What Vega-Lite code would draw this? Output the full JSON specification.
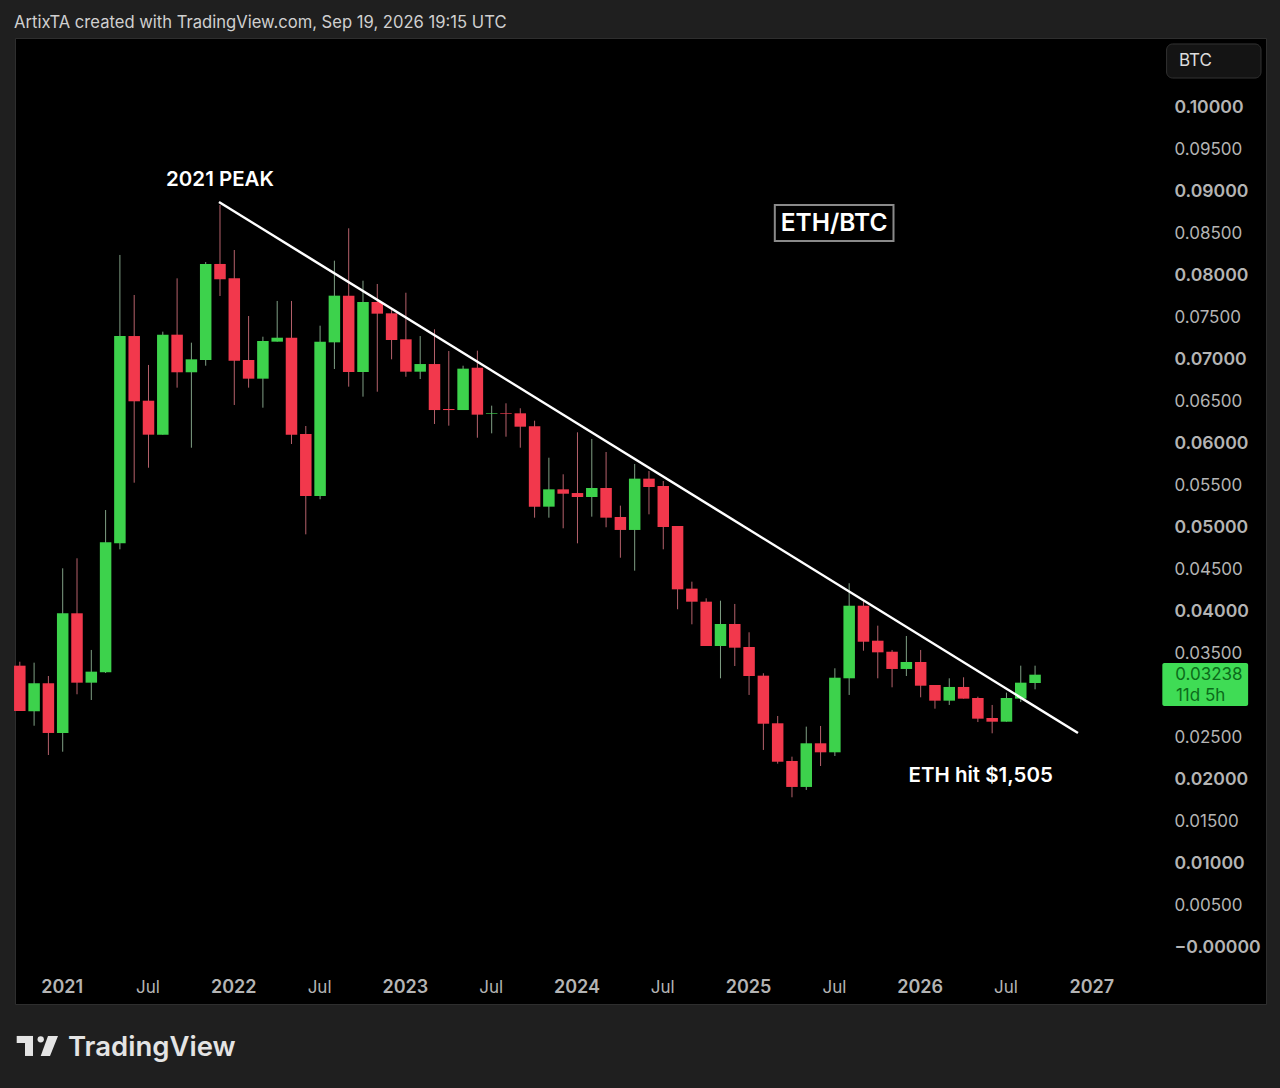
{
  "$schema": "https://vega.github.io/schema/vega-lite/v6.json",
  "width": 1251,
  "height": 966,
  "autosize": "none",
  "padding": {"left": 15, "top": 38, "right": 14, "bottom": 84},
  "background": "#1f1f1f",
  "view": {"fill": "#000000", "stroke": "#2e2e2e"},
  "config": {"font": "Inter"},
  "datasets": {
    "candles": [
      {"month": "2020-10", "m": -3, "open": 0.03345, "close": 0.02806, "high": 0.03392, "low": 0.02806},
      {"month": "2020-11", "m": -2, "open": 0.02803, "close": 0.03136, "high": 0.03381, "low": 0.02631},
      {"month": "2020-12", "m": -1, "open": 0.03136, "close": 0.02545, "high": 0.03222, "low": 0.02283},
      {"month": "2021-01", "m": 0, "open": 0.02545, "close": 0.03968, "high": 0.04503, "low": 0.02322},
      {"month": "2021-02", "m": 1, "open": 0.03968, "close": 0.03143, "high": 0.04622, "low": 0.03005},
      {"month": "2021-03", "m": 2, "open": 0.03143, "close": 0.03274, "high": 0.03532, "low": 0.02937},
      {"month": "2021-04", "m": 3, "open": 0.03266, "close": 0.04812, "high": 0.05196, "low": 0.03258},
      {"month": "2021-05", "m": 4, "open": 0.048, "close": 0.07265, "high": 0.08229, "low": 0.04729},
      {"month": "2021-06", "m": 5, "open": 0.07265, "close": 0.06489, "high": 0.07753, "low": 0.05521},
      {"month": "2021-07", "m": 6, "open": 0.06496, "close": 0.06092, "high": 0.06921, "low": 0.05699},
      {"month": "2021-08", "m": 7, "open": 0.06092, "close": 0.07281, "high": 0.07317, "low": 0.06092},
      {"month": "2021-09", "m": 8, "open": 0.07281, "close": 0.06834, "high": 0.07951, "low": 0.06651},
      {"month": "2021-10", "m": 9, "open": 0.06834, "close": 0.06988, "high": 0.07186, "low": 0.05937},
      {"month": "2021-11", "m": 10, "open": 0.0698, "close": 0.08122, "high": 0.08145, "low": 0.06912},
      {"month": "2021-12", "m": 11, "open": 0.08122, "close": 0.0794, "high": 0.08823, "low": 0.07741},
      {"month": "2022-01", "m": 12, "open": 0.07951, "close": 0.06972, "high": 0.08288, "low": 0.06445},
      {"month": "2022-02", "m": 13, "open": 0.0698, "close": 0.06758, "high": 0.07503, "low": 0.06651},
      {"month": "2022-03", "m": 14, "open": 0.06758, "close": 0.07206, "high": 0.07257, "low": 0.06413},
      {"month": "2022-04", "m": 15, "open": 0.07198, "close": 0.07245, "high": 0.07682, "low": 0.07198},
      {"month": "2022-05", "m": 16, "open": 0.07245, "close": 0.06092, "high": 0.07682, "low": 0.05981},
      {"month": "2022-06", "m": 17, "open": 0.061, "close": 0.05363, "high": 0.06195, "low": 0.04907},
      {"month": "2022-07", "m": 18, "open": 0.05363, "close": 0.07198, "high": 0.07388, "low": 0.05324},
      {"month": "2022-08", "m": 19, "open": 0.0719, "close": 0.07745, "high": 0.08161, "low": 0.06873},
      {"month": "2022-09", "m": 20, "open": 0.07745, "close": 0.06837, "high": 0.08546, "low": 0.06663},
      {"month": "2022-10", "m": 21, "open": 0.06837, "close": 0.0767, "high": 0.07923, "low": 0.06544},
      {"month": "2022-11", "m": 22, "open": 0.0767, "close": 0.07531, "high": 0.07884, "low": 0.06603},
      {"month": "2022-12", "m": 23, "open": 0.07535, "close": 0.07218, "high": 0.07586, "low": 0.06988},
      {"month": "2023-01", "m": 24, "open": 0.07226, "close": 0.06841, "high": 0.0778, "low": 0.06781},
      {"month": "2023-02", "m": 25, "open": 0.06841, "close": 0.06932, "high": 0.07265, "low": 0.06754},
      {"month": "2023-03", "m": 26, "open": 0.06932, "close": 0.06385, "high": 0.07345, "low": 0.06219},
      {"month": "2023-04", "m": 27, "open": 0.06397, "close": 0.06385, "high": 0.07087, "low": 0.06199},
      {"month": "2023-05", "m": 28, "open": 0.06385, "close": 0.06877, "high": 0.06912, "low": 0.06385},
      {"month": "2023-06", "m": 29, "open": 0.06888, "close": 0.0633, "high": 0.07091, "low": 0.06056},
      {"month": "2023-07", "m": 30, "open": 0.06342, "close": 0.0635, "high": 0.06437, "low": 0.06108},
      {"month": "2023-08", "m": 31, "open": 0.0635, "close": 0.06342, "high": 0.06465, "low": 0.06068},
      {"month": "2023-09", "m": 32, "open": 0.06346, "close": 0.06187, "high": 0.06406, "low": 0.05937},
      {"month": "2023-10", "m": 33, "open": 0.06192, "close": 0.05236, "high": 0.06258, "low": 0.05105},
      {"month": "2023-11", "m": 34, "open": 0.05236, "close": 0.05442, "high": 0.05818, "low": 0.05105},
      {"month": "2023-12", "m": 35, "open": 0.05442, "close": 0.0539, "high": 0.05621, "low": 0.04979},
      {"month": "2024-01", "m": 36, "open": 0.05398, "close": 0.05351, "high": 0.0612, "low": 0.048},
      {"month": "2024-02", "m": 37, "open": 0.05351, "close": 0.05458, "high": 0.06041, "low": 0.05117},
      {"month": "2024-03", "m": 38, "open": 0.05458, "close": 0.05105, "high": 0.05886, "low": 0.04991},
      {"month": "2024-04", "m": 39, "open": 0.05113, "close": 0.04959, "high": 0.05248, "low": 0.04629},
      {"month": "2024-05", "m": 40, "open": 0.04959, "close": 0.05569, "high": 0.05743, "low": 0.04475},
      {"month": "2024-06", "m": 41, "open": 0.05569, "close": 0.0547, "high": 0.0566, "low": 0.05145},
      {"month": "2024-07", "m": 42, "open": 0.05482, "close": 0.04994, "high": 0.05541, "low": 0.04729},
      {"month": "2024-08", "m": 43, "open": 0.05006, "close": 0.04253, "high": 0.05006, "low": 0.04016},
      {"month": "2024-09", "m": 44, "open": 0.04261, "close": 0.04106, "high": 0.04344, "low": 0.03837},
      {"month": "2024-10", "m": 45, "open": 0.04106, "close": 0.03579, "high": 0.04146, "low": 0.03579},
      {"month": "2024-11", "m": 46, "open": 0.03579, "close": 0.03841, "high": 0.04118, "low": 0.03195},
      {"month": "2024-12", "m": 47, "open": 0.03841, "close": 0.03559, "high": 0.04079, "low": 0.03341},
      {"month": "2025-01", "m": 48, "open": 0.03567, "close": 0.03222, "high": 0.03742, "low": 0.02997},
      {"month": "2025-02", "m": 49, "open": 0.03226, "close": 0.02655, "high": 0.03255, "low": 0.02343},
      {"month": "2025-03", "m": 50, "open": 0.0266, "close": 0.02203, "high": 0.02747, "low": 0.0218},
      {"month": "2025-04", "m": 51, "open": 0.02212, "close": 0.01903, "high": 0.02263, "low": 0.0178},
      {"month": "2025-05", "m": 52, "open": 0.01903, "close": 0.02422, "high": 0.0262, "low": 0.01867},
      {"month": "2025-06", "m": 53, "open": 0.02422, "close": 0.02315, "high": 0.02628, "low": 0.02152},
      {"month": "2025-07", "m": 54, "open": 0.02315, "close": 0.03202, "high": 0.03314, "low": 0.02271},
      {"month": "2025-08", "m": 55, "open": 0.03195, "close": 0.04058, "high": 0.04325, "low": 0.02997},
      {"month": "2025-09", "m": 56, "open": 0.04058, "close": 0.0363, "high": 0.04126, "low": 0.03523},
      {"month": "2025-10", "m": 57, "open": 0.03642, "close": 0.03504, "high": 0.03821, "low": 0.03195},
      {"month": "2025-11", "m": 58, "open": 0.03511, "close": 0.03306, "high": 0.03532, "low": 0.03088},
      {"month": "2025-12", "m": 59, "open": 0.03306, "close": 0.03389, "high": 0.03698, "low": 0.03222},
      {"month": "2026-01", "m": 60, "open": 0.03389, "close": 0.03107, "high": 0.03532, "low": 0.02969},
      {"month": "2026-02", "m": 61, "open": 0.03115, "close": 0.02929, "high": 0.03115, "low": 0.02834},
      {"month": "2026-03", "m": 62, "open": 0.02929, "close": 0.03092, "high": 0.03195, "low": 0.02878},
      {"month": "2026-04", "m": 63, "open": 0.03092, "close": 0.02953, "high": 0.03207, "low": 0.02953},
      {"month": "2026-05", "m": 64, "open": 0.02961, "close": 0.02715, "high": 0.02976, "low": 0.02675},
      {"month": "2026-06", "m": 65, "open": 0.02723, "close": 0.02679, "high": 0.02878, "low": 0.02541},
      {"month": "2026-07", "m": 66, "open": 0.02679, "close": 0.02961, "high": 0.03024, "low": 0.02679},
      {"month": "2026-08", "m": 67, "open": 0.02953, "close": 0.03143, "high": 0.03345, "low": 0.02913},
      {"month": "2026-09", "m": 68, "open": 0.03139, "close": 0.03238, "high": 0.03345, "low": 0.03064}
    ]
  },
  "encoding": {
    "x": {
      "field": "m",
      "type": "quantitative",
      "scale": {"domain": [-3.336, 84.15], "nice": false, "zero": false, "padding": 0},
      "axis": {
        "title": null,
        "orient": "bottom",
        "offset": -17,
        "values": [0, 6, 12, 18, 24, 30, 36, 42, 48, 54, 60, 66, 72],
        "labelExpr": "datum.value % 12 == 0 ? '' + (2021 + datum.value / 12) : 'Jul'",
        "labelFontWeight": {"condition": {"test": "datum.value % 12 == 0", "value": 600}, "value": 400},
        "labelFontSize": {"condition": {"test": "datum.value % 12 == 0", "value": 18}, "value": 17},
        "labelColor": "#b4b4b4",
        "labelBaseline": "middle",
        "labelOffset": -1,
        "labelPadding": 0,
        "labelOverlap": false,
        "labelFlush": false,
        "domain": false,
        "ticks": false,
        "tickSize": 0,
        "grid": false
      }
    },
    "y": {
      "field": "v",
      "type": "quantitative",
      "scale": {"domain": [-0.00678, 0.10809], "nice": false, "zero": false},
      "axis": {
        "title": null,
        "orient": "right",
        "offset": -92,
        "values": [0, 0.005, 0.01, 0.015, 0.02, 0.025, 0.035, 0.04, 0.045, 0.05, 0.055, 0.06, 0.065, 0.07, 0.075, 0.08, 0.085, 0.09, 0.095, 0.1],
        "labelExpr": "datum.value == 0 ? '−0.00000' : format(datum.value, '.5f')",
        "labelFontWeight": {"condition": {"test": "round(datum.value * 1000) % 10 == 0", "value": 600}, "value": 400},
        "labelFontSize": {"condition": {"test": "round(datum.value * 1000) % 10 == 0", "value": 17.6}, "value": 17},
        "labelColor": "#b4b4b4",
        "labelAlign": "left",
        "labelBaseline": "middle",
        "labelOffset": 1,
        "labelPadding": 0,
        "labelOverlap": false,
        "labelFlush": false,
        "domain": false,
        "ticks": false,
        "tickSize": 0,
        "grid": false
      }
    }
  },
  "layer": [
    {
      "data": {"name": "candles"},
      "mark": {"type": "rule", "strokeWidth": 1},
      "encoding": {
        "y": {
          "field": "low",
          "type": "quantitative",
          "scale": {"domain": [-0.00678, 0.10809], "nice": false, "zero": false},
          "axis": {"title": null, "orient": "right"}
        },
        "y2": {"field": "high"},
        "color": {
          "condition": {"test": "datum.close >= datum.open", "value": "#7f9f84"},
          "value": "#b5616b"
        }
      }
    },
    {
      "data": {"name": "candles"},
      "mark": {"type": "bar", "size": 11.5},
      "encoding": {
        "y": {
          "field": "open",
          "type": "quantitative",
          "scale": {"domain": [-0.00678, 0.10809], "nice": false, "zero": false},
          "axis": {"title": null, "orient": "right"}
        },
        "y2": {"field": "close"},
        "color": {
          "condition": {"test": "datum.close >= datum.open", "value": "#3dd24c"},
          "value": "#f2384c"
        }
      }
    },
    {
      "data": {"values": [{"m": 10.93, "v": 0.08859}, {"m": 71.0, "v": 0.02545}]},
      "mark": {"type": "line", "color": "#ffffff", "strokeWidth": 2.5}
    },
    {
      "data": {"values": [{"m": 49.8, "m2": 58.1, "v": 0.08823, "v2": 0.08395}]},
      "mark": {"type": "rect", "fill": "#000000", "stroke": "#8a8a8a", "strokeWidth": 2},
      "encoding": {"x2": {"field": "m2"}, "y2": {"field": "v2"}}
    },
    {
      "data": {"values": [{"m": 77.2, "m2": 83.8, "v": 0.10738, "v2": 0.10333}]},
      "mark": {"type": "rect", "fill": "#141414", "stroke": "#333333", "strokeWidth": 1, "cornerRadius": 6},
      "encoding": {"x2": {"field": "m2"}, "y2": {"field": "v2"}}
    },
    {
      "data": {"values": [{"m": 76.9, "m2": 82.9, "v": 0.03377, "v2": 0.02866}]},
      "mark": {"type": "rect", "fill": "#3fdc55", "cornerRadius": 2},
      "encoding": {"x2": {"field": "m2"}, "y2": {"field": "v2"}}
    },
    {
      "data": {"values": [
        {"m": 11.0, "v": 0.09132, "label": "2021 PEAK"},
        {"m": 64.2, "v": 0.02045, "label": "ETH hit $1,505"}
      ]},
      "mark": {"type": "text", "color": "#ffffff", "fontSize": 20.5, "fontWeight": 600, "align": "center", "baseline": "middle", "dy": 1},
      "encoding": {"text": {"field": "label"}}
    },
    {
      "data": {"values": [{"m": 53.95, "v": 0.0861, "label": "ETH/BTC"}]},
      "mark": {"type": "text", "color": "#ffffff", "fontSize": 24.5, "fontWeight": 600, "align": "center", "baseline": "middle", "dy": 1.5},
      "encoding": {"text": {"field": "label"}}
    },
    {
      "data": {"values": [{"m": 78.06, "v": 0.10547, "label": "BTC"}]},
      "mark": {"type": "text", "color": "#dddddd", "fontSize": 17, "align": "left", "baseline": "middle", "dy": 1},
      "encoding": {"text": {"field": "label"}}
    },
    {
      "data": {"values": [
        {"m": 77.8, "v": 0.03245, "label": "0.03238"},
        {"m": 77.85, "v": 0.03, "label": "11d 5h"}
      ]},
      "mark": {"type": "text", "color": "#0b6b1a", "fontSize": 17, "align": "left", "baseline": "middle", "dy": 1},
      "encoding": {"text": {"field": "label"}}
    },
    {
      "data": {"values": [{"m": -3.405, "v": 0.10999, "label": "ArtixTA created with TradingView.com, Sep 19, 2026 19:15 UTC"}]},
      "mark": {"type": "text", "color": "#d0d0d0", "fontSize": 16.6, "align": "left", "baseline": "middle", "dy": 1},
      "encoding": {"text": {"field": "label"}}
    },
    {
      "data": {"values": [{"m": 0.37, "v": -0.01189, "label": "TradingView"}]},
      "mark": {"type": "text", "color": "#e4e4e4", "fontSize": 27.5, "fontWeight": 600, "align": "left", "baseline": "middle", "dy": 1},
      "encoding": {"text": {"field": "label"}}
    },
    {
      "data": {"values": [
        {"m": -3.217, "m2": -2.077, "v": -0.01058, "v2": -0.01142},
        {"m": -2.636, "m2": -2.077, "v": -0.01142, "v2": -0.01296}
      ]},
      "mark": {"type": "rect", "fill": "#e4e4e4"},
      "encoding": {"x2": {"field": "m2"}, "y2": {"field": "v2"}}
    },
    {
      "data": {"values": [{"m": -1.538, "v": -0.01098}]},
      "mark": {"type": "circle", "color": "#e4e4e4", "size": 40, "opacity": 1}
    },
    {
      "data": {"values": [
        {"m": -1.028, "m2": -0.329, "v": -0.01058},
        {"m": -1.538, "m2": -0.888, "v": -0.01296}
      ]},
      "mark": {"type": "area", "orient": "horizontal", "color": "#e4e4e4"},
      "encoding": {"x2": {"field": "m2"}}
    }
  ]
}
